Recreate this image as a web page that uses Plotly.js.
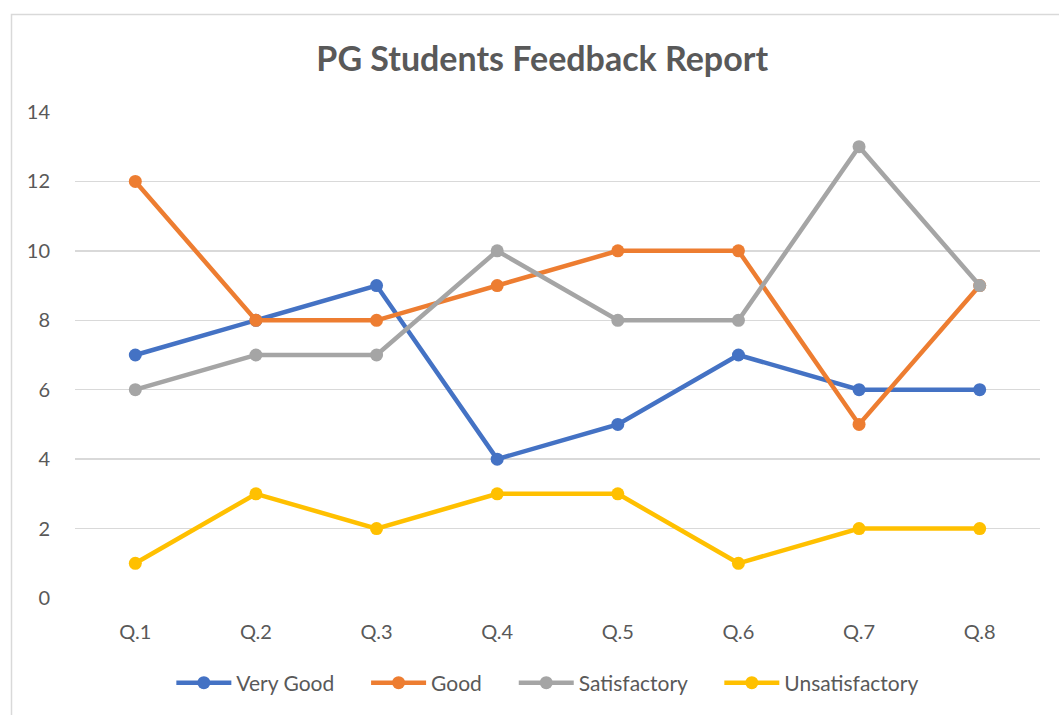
<!DOCTYPE html>
<html><head><meta charset="utf-8">
<script src="https://cdn.plot.ly/plotly-3.0.1.min.js"></script>
<style>html,body{margin:0;padding:0;background:#fff;}#chart{width:1059px;height:715px;}</style>
</head><body><div id="chart"></div>
<script>
const categories = ["Q.1","Q.2","Q.3","Q.4","Q.5","Q.6","Q.7","Q.8"];
const veryGood = [7,8,9,4,5,7,6,6];
const good = [12,8,8,9,10,10,5,9];
const satisfactory = [6,7,7,10,8,8,13,9];
const unsatisfactory = [1,3,2,3,3,1,2,2];
const seriesNames = ["Very Good","Good","Satisfactory","Unsatisfactory"];
const seriesColors = ["#4472C4","#ED7D31","#A5A5A5","#FFC000"];
const seriesData = [veryGood, good, satisfactory, unsatisfactory];

const pad = '\u00A0\u00A0\u00A0\u00A0\u00A0';
const traces = seriesData.map((d,i)=>({
  type:'scatter', mode:'lines+markers', x:categories, y:d,
  name: seriesNames[i] + (i < seriesNames.length-1 ? pad : ''),
  line:{color:seriesColors[i], width:4.5},
  marker:{color:seriesColors[i], size:13}
}));

const font = "Lato, 'Open Sans', sans-serif";
const layout = {
  width:1059, height:715,
  margin:{l:75, r:19, t:112, b:117},
  paper_bgcolor:'#fff', plot_bgcolor:'#fff',
  title:{text:'<b>PG Students Feedback Report</b>', x:0.512, xanchor:'center', y:0.918, yanchor:'middle',
         font:{family:font, size:34, color:'#595959'}},
  xaxis:{type:'category', range:[-0.5,7.5], showgrid:false, zeroline:false, showline:false, ticks:'',
         tickfont:{family:font, size:20, color:'#595959'}, ticklabelstandoff:20, fixedrange:true},
  yaxis:{range:[0,14], dtick:2, tick0:0, showgrid:true, gridcolor:'#D9D9D9', gridwidth:1.5, zeroline:false,
         showline:false, ticks:'', tickfont:{family:font, size:20, color:'#595959'}, ticklabelstandoff:24, fixedrange:true},
  showlegend:true,
  legend:{orientation:'h', x:0.49, xanchor:'center', y:-0.175, yanchor:'middle',
          font:{family:font, size:21, color:'#595959'}, itemwidth:55},
  shapes:[{type:'rect', xref:'paper', yref:'paper', x0:-0.0658, x1:1.2, y0:-0.4, y1:1.2006,
           line:{color:'#D9D9D9', width:1.5}, fillcolor:'rgba(0,0,0,0)', layer:'below'}]
};
Plotly.newPlot('chart', traces, layout, {displayModeBar:false, staticPlot:true});
</script></body></html>
